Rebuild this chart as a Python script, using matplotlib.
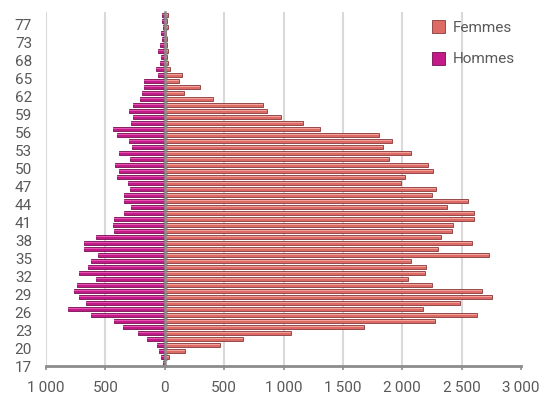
import matplotlib.pyplot as plt
from matplotlib.ticker import FuncFormatter, FixedLocator
from matplotlib.transforms import ScaledTranslation

plt.rcParams['font.family'] = ['Roboto', 'DejaVu Sans']

# age categories, bottom to top
ages = list(range(17, 69)) + [70, 71, 73, 74, 75, 77, 79]

femmes = [5, 37, 171, 466, 655, 1062, 1677, 2272, 2628, 2171,
          2483, 2752, 2673, 2248, 2046, 2190, 2204, 2070, 2729, 2303,
          2584, 2323, 2420, 2424, 2600, 2600, 2373, 2552, 2249, 2283,
          1991, 2023, 2260, 2216, 1889, 2070, 1834, 1913, 1803, 1307,
          1168, 983, 860, 826, 410, 160, 295, 124, 149, 45,
          28, 15, 25, 15, 20, 12, 25, 20, 25]

hommes = [18, 30, 50, 66, 146, 225, 350, 428, 624, 815,
          662, 723, 768, 736, 576, 724, 644, 620, 563, 680,
          680, 576, 427, 438, 427, 345, 281, 345, 345, 292,
          312, 405, 385, 415, 295, 385, 280, 302, 402, 440,
          281, 265, 300, 267, 211, 188, 177, 177, 56, 76,
          42, 28, 56, 36, 20, 28, 14, 20, 20]

x_ticks = [-1000, -500, 0, 500, 1000, 1500, 2000, 2500, 3000]

grey = '#595959'
pos = list(range(len(ages)))
neg_hommes = [-v for v in hommes]

fig = plt.figure(figsize=(5.45, 4.0), dpi=100)
ax = fig.add_axes([0.0844, 0.085, 0.8716, 0.885])

# main bars plus a thin highlight strip to give the bevelled look
bf = ax.barh(pos, femmes, height=0.72, color='#DE6A64', edgecolor='#86383A',
             linewidth=0.6, label='Femmes', zorder=2)
ax.barh([p + 0.12 for p in pos], femmes, height=0.2, color='#F4A39C',
        linewidth=0, zorder=2.1)
bh = ax.barh(pos, neg_hommes, height=0.72, color='#C21A86', edgecolor='#760F52',
             linewidth=0.6, label='Hommes', zorder=2)
ax.barh([p + 0.12 for p in pos], neg_hommes, height=0.2, color='#E653B2',
        linewidth=0, zorder=2.1)

ax.set_xlim(-1000, 3000)
ax.set_ylim(-0.5, len(ages) - 0.5)

ax.set_xticks(x_ticks)
ax.xaxis.set_major_formatter(
    FuncFormatter(lambda v, p: f"{abs(v):,.0f}".replace(',', '\u2009')))
ax.tick_params(axis='x', colors='#8C8C8C', labelcolor=grey, labelsize=11,
               length=3, width=1.2, pad=8)
ax.grid(axis='x', color='#D9D9D9', linewidth=1.5, zorder=0)
ax.set_axisbelow(True)
ax.get_xgridlines()[-1].set_visible(False)

# vertical axis sits at zero, with small ticks between categories
ax.spines['left'].set_position(('data', 0))
ax.spines['left'].set_color('#8C8C8C')
ax.spines['left'].set_linewidth(1.8)
ax.spines['left'].set_zorder(3)
ax.yaxis.set_major_locator(FixedLocator([p - 0.5 for p in pos]))
ax.tick_params(axis='y', which='major', direction='inout', length=3,
               colors='#8C8C8C', labelleft=False)
ax.spines['bottom'].set_color('#8C8C8C')
ax.spines['bottom'].set_linewidth(2)
ax.spines['right'].set_visible(False)
ax.spines['top'].set_visible(False)

# age labels on the far left, nudged down a little
sec = ax.secondary_yaxis(0.0)
sec.set_yticks(pos[::3], [str(a) for a in ages[::3]])
sec.tick_params(length=0, labelsize=11, labelcolor=grey, pad=10)
sec.spines['left'].set_visible(False)
shift = ScaledTranslation(0, -3 / 100, fig.dpi_scale_trans)
for lbl in sec.get_yticklabels():
    lbl.set_transform(lbl.get_transform() + shift)

fig.legend(handles=[bf, bh], labels=['Femmes', 'Hommes'], loc='upper left',
           bbox_to_anchor=(0.778, 0.968), frameon=False, fontsize=11,
           handlelength=0.9, handleheight=0.9, handletextpad=0.5,
           labelspacing=1.1, labelcolor=grey, borderpad=0)

fig.savefig('out.png', dpi=100)
